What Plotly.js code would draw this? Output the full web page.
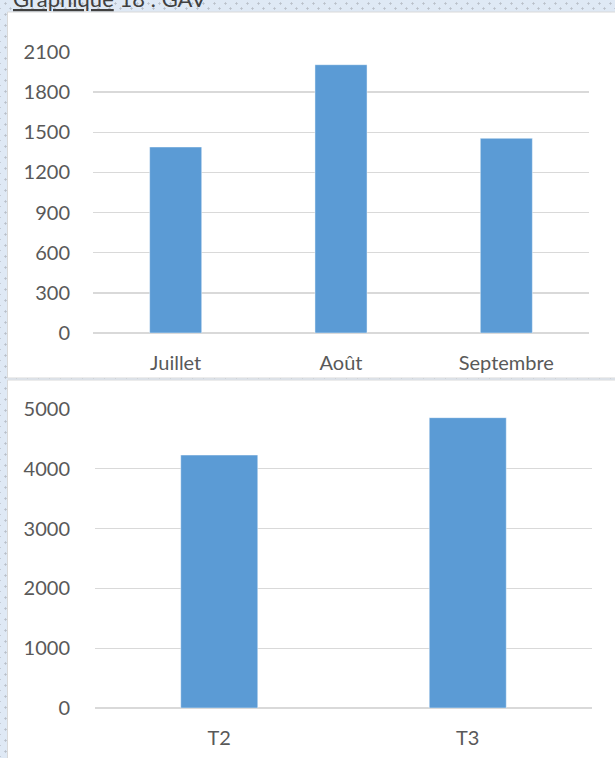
<!DOCTYPE html>
<html>
<head>
<meta charset="utf-8">
<script src="https://cdn.plot.ly/plotly-3.0.1.min.js"></script>
<style>
  html, body { margin: 0; padding: 0; }
  body {
    width: 615px; height: 758px; overflow: hidden;
    background-color: #dfe9f5;
    background-image:
      radial-gradient(circle, #b9c0c9 0.9px, transparent 1.3px),
      radial-gradient(circle, #b9c0c9 0.9px, transparent 1.3px);
    background-size: 11px 11px;
    background-position: 0 -2px, 5px 3px;
  }
  #graph { width: 615px; height: 758px; }
</style>
</head>
<body>
<div id="graph"></div>
<script>
// graphique 18 : GAV (mois puis trimestres)
var mois = ["Juillet", "Août", "Septembre"];
var gavMois = [1390, 2005, 1455];
var trimestres = ["T2", "T3"];
var gavTrim = [4230, 4855];

var W = 615, H = 758;
var bleu = "#5b9bd5";
var gris = "#d9d9d9";
var texte = "#595959";

function px(x) { return x / W; }
function py(y) { return 1 - y / H; }

var haut = {
  x: mois, y: gavMois, type: "bar", xaxis: "x", yaxis: "y",
  width: 0.315,
  marker: { color: bleu, line: { color: "rgba(255,255,255,0.45)", width: 1 } },
  hoverinfo: "x+y"
};
var bas = {
  x: trimestres, y: gavTrim, type: "bar", xaxis: "x2", yaxis: "y2",
  width: 0.31,
  marker: { color: bleu, line: { color: "rgba(255,255,255,0.45)", width: 1 } },
  hoverinfo: "x+y"
};

var police = { family: "Lato, 'Open Sans', sans-serif", size: 20, color: texte };

var axeY = function (domaine, max, pas) {
  return {
    domain: domaine, range: [0, max], dtick: pas, tick0: 0,
    showgrid: true, gridcolor: gris, gridwidth: 1.3,
    zeroline: true, zerolinecolor: gris, zerolinewidth: 1.3,
    showline: false, ticks: "", ticklabelstandoff: 22,
    tickfont: police, fixedrange: true
  };
};
var axeX = function (domaine, ancre) {
  return {
    domain: domaine, anchor: ancre, showgrid: false, zeroline: false,
    showline: false, ticks: "", ticklabelstandoff: 16,
    tickfont: police, fixedrange: true
  };
};

var layout = {
  width: W, height: H,
  margin: { l: 0, r: 0, t: 0, b: 0 },
  paper_bgcolor: "rgba(0,0,0,0)",
  plot_bgcolor: "rgba(0,0,0,0)",
  showlegend: false,
  font: police,
  xaxis: axeX([px(93), px(589)], "y"),
  yaxis: axeY([py(333), py(52)], 2100, 300),
  xaxis2: axeX([px(95), px(592)], "y2"),
  yaxis2: axeY([py(708), py(409)], 5000, 1000),
  shapes: [
    { type: "rect", xref: "paper", yref: "paper", layer: "below",
      x0: px(7.5), x1: px(620), y0: py(378), y1: py(12),
      fillcolor: "#ffffff", line: { color: gris, width: 1 } },
    { type: "rect", xref: "paper", yref: "paper", layer: "below",
      x0: px(7.5), x1: px(620), y0: py(765), y1: py(380),
      fillcolor: "#ffffff", line: { color: gris, width: 1 } }
  ],
  annotations: [
    { text: "<u>Graphique</u> 18 : GAV", xref: "paper", yref: "paper",
      x: px(11), y: py(-2), xanchor: "left", yanchor: "middle",
      showarrow: false, font: { family: "Lato, sans-serif", size: 22, color: "#404040" } }
  ]
};

Plotly.newPlot("graph", [haut, bas], layout, { displayModeBar: false, staticPlot: true });
</script>
</body>
</html>
